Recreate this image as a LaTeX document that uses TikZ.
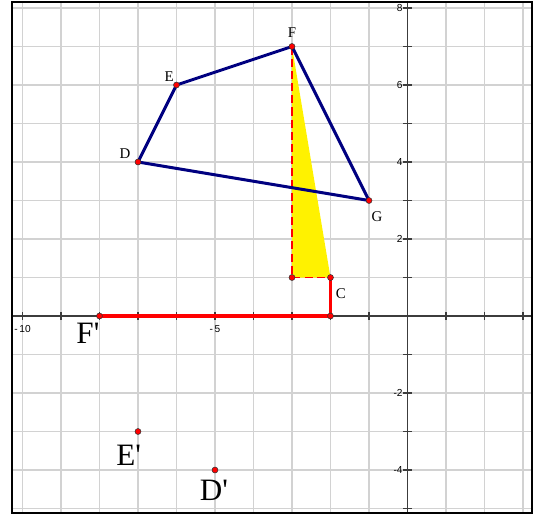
\documentclass[tikz,border=0pt]{standalone}
\usepackage{fontspec}
\setmainfont{Liberation Serif}
\newfontfamily\ticksf{Liberation Sans}
\usetikzlibrary{calc,positioning}
\definecolor{quadc}{RGB}{0,0,128}
\definecolor{gridc}{RGB}{210,210,210}
\definecolor{axisc}{RGB}{60,60,60}

\begin{document}
\begin{tikzpicture}[
  pt/.style={circle, fill=red, draw=black!80, line width=0.4pt, inner sep=0pt, minimum size=4.4pt},
  lbl/.style={font=\fontsize{11}{11}\selectfont, inner sep=0pt},
  biglbl/.style={font=\fontsize{23}{23}\selectfont, inner sep=0pt},
  ticklbl/.style={font=\ticksf\fontsize{7.5}{7.5}\selectfont, inner sep=0pt},
  side/.style={draw=quadc, line width=2.2pt, line join=round},
  trace/.style={draw=red, line width=2.5pt}]
  \useasboundingbox (-10.584,-5.169) rectangle (3.338,8.208);
  % grid and axes
  \begin{scope}
    \clip (-10.27,-5.117) rectangle (3.234,8.156);
    \draw[gridc, line width=0.9pt] (-11,-6) grid (4,9);
  \end{scope}
  \draw[axisc, line width=0.8pt] (-10.27,0) -- (3.234,0);
  \draw[axisc, line width=0.8pt] (0,-5.117) -- (0,8.156);
  \foreach \x in {-10,...,3} \draw[axisc, line width=0.8pt] (\x,-0.1) -- (\x,0.1);
  \foreach \y in {-5,...,8} \draw[axisc, line width=0.8pt] (-0.12,\y) -- (0.12,\y);
  \foreach \x in {-10,-5} \node[ticklbl] (tx\x) at (\x,-0.33) {-\,\ifnum\x=-10 10\else 5\fi};
  \foreach \y in {8,6,4,2,-2,-4} \node[ticklbl, anchor=east] (ty\y) at (-0.12,\y) {\y};
  \draw[line width=1.6pt] (-10.27,-5.117) rectangle (3.234,8.156);

  % points
  \coordinate (D) at (-7,4);
  \coordinate (E) at (-6,6);
  \coordinate (F) at (-3,7);
  \coordinate (G) at (-1,3);
  \coordinate (A) at (-3,1);
  \coordinate (C) at (-2,1);
  \coordinate (O) at (-2,0);
  \coordinate (Fp) at (-8,0);
  \coordinate (Ep) at (-7,-3);
  \coordinate (Dp) at (-5,-4);

  \fill[yellow] (F) -- (A) -- (C) -- cycle;
  \draw[red, line width=0.9pt, dash pattern=on 6pt off 3pt] (F) -- (A) -- (C);
  \draw[trace] (C) -- (O) -- (Fp);
  \draw[side] (D) -- (E) -- (F) -- (G) -- cycle;

  \foreach \p in {D,E,F,G,A,C,O,Fp,Ep,Dp} \node[pt] at (\p) {};

  % labels
  \node[lbl] (lF) at ($(F)+(0,0.36)$) {F};
  \node[lbl] (lE) at ($(E)+(-0.19,0.23)$) {E};
  \node[lbl] (lD) at ($(D)+(-0.34,0.23)$) {D};
  \node[lbl] (lG) at ($(G)+(0.21,-0.42)$) {G};
  \node[lbl] (lC) at ($(C)+(0.27,-0.42)$) {C};
  \node[biglbl] (lFp) at ($(Fp)+(-0.3,-0.46)$) {F\textquotesingle};
  \node[biglbl] (lEp) at ($(Ep)+(-0.24,-0.63)$) {E\textquotesingle};
  \node[biglbl] (lDp) at ($(Dp)+(-0.03,-0.54)$) {D\textquotesingle};
\end{tikzpicture}
\end{document}
